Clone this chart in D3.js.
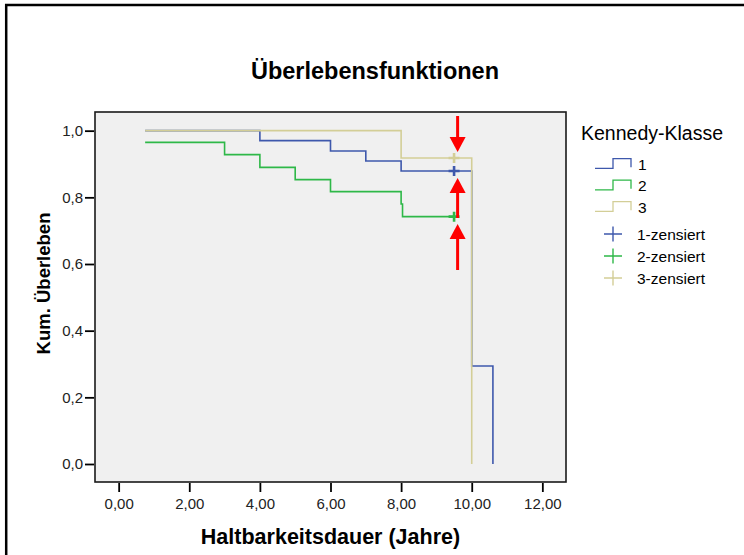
<!DOCTYPE html>
<html>
<head>
<meta charset="utf-8">
<script src="https://cdn.jsdelivr.net/npm/d3@7"></script>
<style>
  body { margin: 0; background: #fff; }
  svg { display: block; }
</style>
</head>
<body>
<div id="chart"></div>
<script>
// Kaplan-Meier curves per Kennedy class (time in years, cumulative survival)
const groups = ['1', '2', '3'];
const colors = ['#3E58AC', '#2EB848', '#D3CE97'];
const curve1 = [[0.75, 1.0], [4, 0.970], [6, 0.939], [7, 0.909], [8, 0.879], [10, 0.294], [10.6, 0]];
const curve2 = [[0.75, 0.965], [3, 0.928], [4, 0.890], [5, 0.853], [6, 0.817], [8, 0.780], [8.04, 0.742], [9.5, 0.742]];
const curve3 = [[0.75, 1.0], [8, 0.918], [10, 0]];
const censored = [[9.5, 0.879], [9.5, 0.742], [9.5, 0.918]];
const xTicks = [0, 2, 4, 6, 8, 10, 12];
const yTicks = [0, 0.2, 0.4, 0.6, 0.8, 1.0];
const legendLabels = ['1', '2', '3', '1-zensiert', '2-zensiert', '3-zensiert'];
// red annotation arrows: x, tail value, tip value
const arrows = [[9.6, 1.044, 0.936], [9.6, 0.738, 0.858], [9.6, 0.582, 0.720]];

const FONT = 'Arial, "Liberation Sans", sans-serif';

const width = 744, height = 555;
const svg = d3.select('#chart').append('svg')
  .attr('width', width)
  .attr('height', height)
  .style('font-family', FONT);

function text(x, y, str, size, weight, anchor) {
  return svg.append('text')
    .attr('x', x).attr('y', y)
    .attr('font-size', size)
    .attr('font-weight', weight)
    .attr('text-anchor', anchor)
    .attr('fill', '#000')
    .text(str);
}

// outer frame (only top and left edges visible)
svg.append('line').attr('x1', 5).attr('x2', width).attr('y1', 5).attr('y2', 5)
  .attr('stroke', '#000').attr('stroke-width', 2.5);
svg.append('line').attr('x1', 6.2).attr('x2', 6.2).attr('y1', 4).attr('y2', height)
  .attr('stroke', '#000').attr('stroke-width', 2.5);

const plot = { left: 95, right: 566, top: 112, bottom: 482 };
const x = d3.scaleLinear().domain([-0.67, 12.67]).range([plot.left, plot.right]);
const y = d3.scaleLinear().domain([-0.054, 1.056]).range([plot.bottom, plot.top]);

svg.append('rect')
  .attr('x', plot.left).attr('y', plot.top)
  .attr('width', plot.right - plot.left).attr('height', plot.bottom - plot.top)
  .attr('fill', '#f0f0f0').attr('stroke', '#1a1a1a').attr('stroke-width', 1.6);

text(375, 79, 'Überlebensfunktionen', 23.5, 'bold', 'middle');

const comma = v => d3.format('.2f')(v).replace('.', ',');
const xAxis = svg.append('g')
  .attr('transform', `translate(0,${plot.bottom + 1})`)
  .call(d3.axisBottom(x).tickValues(xTicks).tickSize(9).tickPadding(6.5).tickFormat(comma));
const yAxis = svg.append('g')
  .attr('transform', `translate(${plot.left - 1},0)`)
  .call(d3.axisLeft(y).tickValues(yTicks).tickSize(9).tickPadding(2).tickFormat(d => d3.format('.1f')(d).replace('.', ',')));

[xAxis, yAxis].forEach(a => {
  a.select('.domain').remove();
  a.selectAll('line').attr('stroke', '#000').attr('stroke-width', 1.8);
  a.selectAll('text').attr('fill', '#222').attr('font-size', 15).attr('font-family', FONT);
});

text((plot.left + plot.right) / 2, 543.5, 'Haltbarkeitsdauer (Jahre)', 21.5, 'bold', 'middle');
svg.append('text')
  .attr('transform', 'translate(50,283.5) rotate(-90)')
  .attr('font-size', 18.5).attr('font-weight', 'bold').attr('text-anchor', 'middle')
  .text('Kum. Überleben');

// survival curves
const line = d3.line().x(d => x(d[0])).y(d => y(d[1])).curve(d3.curveStepAfter);
const curves = [curve1, curve2, curve3];
svg.append('g').selectAll('path')
  .data(curves)
  .join('path')
  .attr('d', line)
  .attr('fill', 'none')
  .attr('stroke', (d, i) => colors[i])
  .attr('stroke-width', 1.6);

// censor marks
const cross = (w, h) => `M${-w / 2},0H${w / 2}M0,${-h / 2}V${h / 2}`;
svg.append('g').selectAll('path')
  .data(censored)
  .join('path')
  .attr('transform', d => `translate(${x(d[0])},${y(d[1])})`)
  .attr('d', cross(11, 10))
  .attr('stroke', (d, i) => colors[i])
  .attr('stroke-width', 2.6);

// red arrows
const red = '#ff0000';
const arrowG = svg.append('g');
arrows.forEach(([ax, from, to]) => {
  const px = x(ax), y0 = y(from), y1 = y(to);
  const dir = y1 > y0 ? 1 : -1;
  const headLen = 15, headW = 8;
  arrowG.append('line')
    .attr('x1', px).attr('x2', px).attr('y1', y0).attr('y2', y1 - dir * headLen)
    .attr('stroke', red).attr('stroke-width', 3);
  arrowG.append('path')
    .attr('d', `M${px},${y1}L${px - headW},${y1 - dir * headLen}L${px + headW},${y1 - dir * headLen}Z`)
    .attr('fill', red);
});

// legend
text(581, 139.5, 'Kennedy-Klasse', 19.5, 'normal', 'start');
const lg = svg.append('g');
groups.forEach((g, i) => {
  const by = 168.3 + i * 21.5;
  lg.append('path')
    .attr('d', `M595,${by}H613V${by - 9.6}H631V${by - 1}`)
    .attr('fill', 'none').attr('stroke', colors[i]).attr('stroke-width', 1.3);
  text(638, by + 1.5, legendLabels[i], 15.5, 'normal', 'start');
});
groups.forEach((g, i) => {
  const cy = 234 + i * 22;
  lg.append('path')
    .attr('transform', `translate(613,${cy})`)
    .attr('d', cross(18, 15))
    .attr('stroke', colors[i]).attr('stroke-width', 1.4);
  text(637, cy + 5.5, legendLabels[i + 3], 15.5, 'normal', 'start');
});
</script>
</body>
</html>
